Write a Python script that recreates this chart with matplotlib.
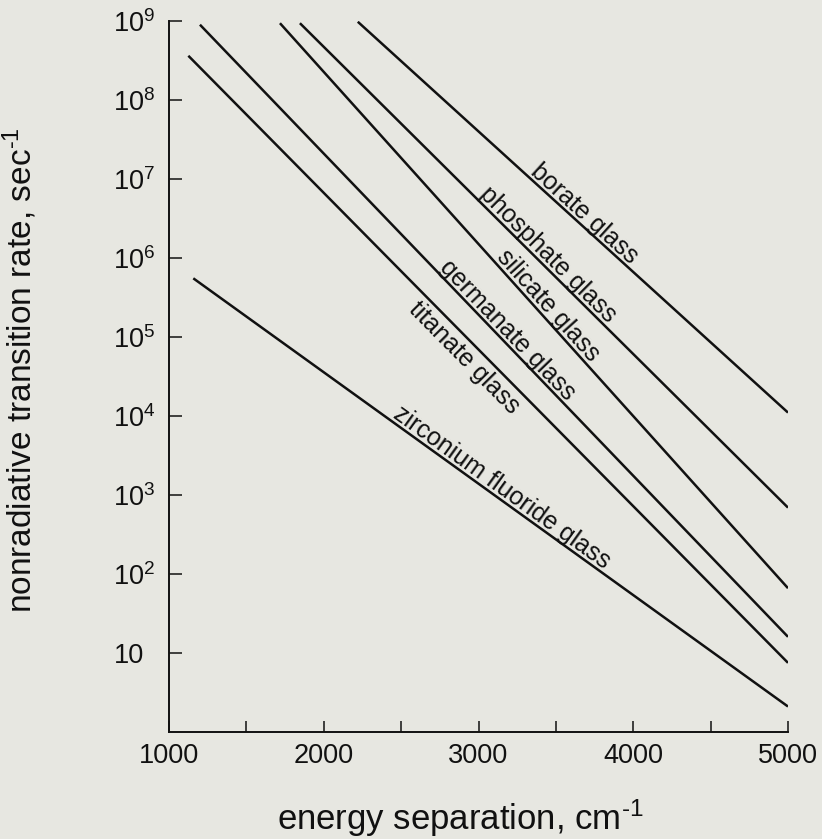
import matplotlib
matplotlib.use("Agg")
import matplotlib.pyplot as plt
import numpy as np
from matplotlib.transforms import offset_copy
from matplotlib.ticker import FixedLocator, FixedFormatter, NullLocator

plt.rcParams['font.family'] = ['Liberation Sans', 'DejaVu Sans']
plt.rcParams['mathtext.fontset'] = 'custom'
plt.rcParams['mathtext.rm'] = 'Liberation Sans'
plt.rcParams['mathtext.it'] = 'Liberation Sans:italic'
plt.rcParams['mathtext.bf'] = 'Liberation Sans:bold'

# ---- data ----
glasses = ["borate glass", "phosphate glass", "silicate glass",
           "germanate glass", "titanate glass", "zirconium fluoride glass"]
x_start = [2220, 1846, 1717, 1200, 1125, 1157]          # cm^-1
rate_start = [9.7e8, 9.3e8, 9.3e8, 8.9e8, 3.6e8, 5.5e5]  # sec^-1
x_end = [5000, 5000, 5000, 5000, 5000, 5000]
rate_end = [1.1e4, 690, 66, 16, 7.5, 2.1]
label_x = [3640, 3400, 3400, 3140, 2980, 3110]          # where each name sits
label_side = ["above", "above", "above", "above", "below", "above"]

x_major = [1000, 2000, 3000, 4000, 5000]
x_minor = [1500, 2500, 3500, 4500]
x_ticklabels = ["1000", "2000", "3000", "4000", "5000"]
y_ticks = [1e1, 1e2, 1e3, 1e4, 1e5, 1e6, 1e7, 1e8, 1e9]
y_ticklabels = ["10", "$10^{2}$", "$10^{3}$", "$10^{4}$", "$10^{5}$",
                "$10^{6}$", "$10^{7}$", "$10^{8}$", "$10^{9}$"]

bg = "#e7e7e1"
ink = "#111111"
W, H = 822, 839
fig = plt.figure(figsize=(W / 100, H / 100), dpi=100, facecolor=bg)
ax = fig.add_axes([169 / W, (H - 732) / H, (788 - 169) / W, (732 - 20.7) / H])
ax.set_facecolor(bg)
ax.set_yscale("log")
ax.set_xlim(1000, 5000)
ax.set_ylim(1, 1e9)

for s in ["top", "right"]:
    ax.spines[s].set_visible(False)
for s in ["left", "bottom"]:
    ax.spines[s].set_linewidth(1.4)
    ax.spines[s].set_color(ink)

ax.xaxis.set_major_locator(FixedLocator(x_major))
ax.xaxis.set_major_formatter(FixedFormatter(x_ticklabels))
ax.xaxis.set_minor_locator(FixedLocator(x_minor))
ax.yaxis.set_major_locator(FixedLocator(y_ticks))
ax.yaxis.set_major_formatter(FixedFormatter(y_ticklabels))
ax.yaxis.set_minor_locator(NullLocator())

ax.tick_params(axis="x", which="both", direction="in", length=8, width=1.1,
               labelsize=19.5, pad=8, color=ink, labelcolor=ink)
ax.tick_params(axis="y", which="major", direction="in", length=9.4, width=1.1,
               labelsize=19.5, pad=40, color=ink, labelcolor=ink)
for t in ax.get_yticklabels():
    t.set_horizontalalignment("left")

for xs, ys, xe, ye in zip(x_start, rate_start, x_end, rate_end):
    ax.plot([xs, xe], [ys, ye], color=ink, lw=1.8, solid_capstyle="butt")

fig.canvas.draw()
for name, xs, ys, xe, ye, lx, side in zip(glasses, x_start, rate_start, x_end,
                                          rate_end, label_x, label_side):
    p0 = ax.transData.transform((xs, ys))
    p1 = ax.transData.transform((xe, ye))
    ang = np.degrees(np.arctan2(p1[1] - p0[1], p1[0] - p0[0]))
    frac = (lx - xs) / (xe - xs)
    ly = 10 ** (np.log10(ys) + frac * (np.log10(ye) - np.log10(ys)))
    th = np.radians(ang)
    if side == "above":
        d, va = 3.5, "baseline"
    else:
        d, va = -4.0, "top"
    tr = offset_copy(ax.transData, fig=fig, x=-np.sin(th) * d, y=np.cos(th) * d,
                     units="dots")
    ax.text(lx, ly, name, rotation=ang, rotation_mode="anchor", ha="center",
            va=va, fontsize=18, transform=tr, color=ink)

fig.text(460 / W, 1 - 830 / H, "energy separation, cm$^{\\text{-}1}$", ha="center",
         va="baseline", fontsize=25, color=ink)
fig.text(20 / W, 1 - 370 / H, "nonradiative transition rate, sec$^{\\text{-}1}$",
         ha="center", va="center", rotation=90, fontsize=24, color=ink)

fig.savefig("out.png", dpi=100, facecolor=bg)
